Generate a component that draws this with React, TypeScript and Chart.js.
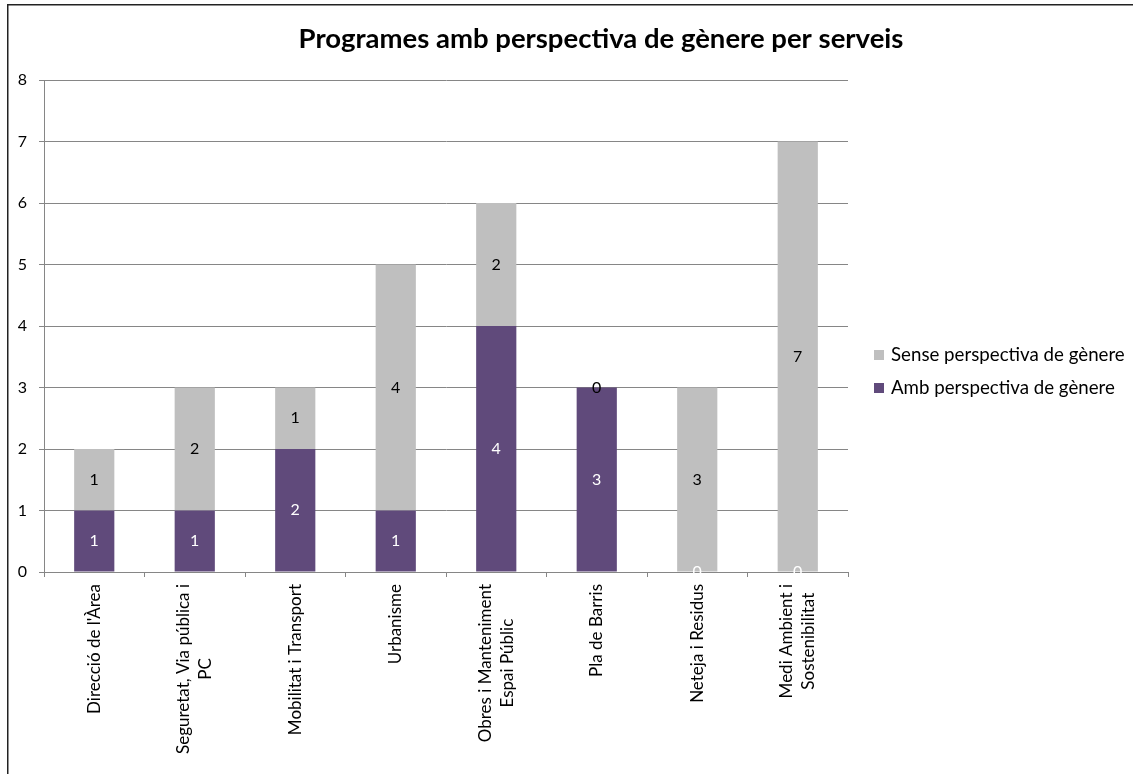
import React, { useEffect, useRef } from "react";
import { Chart, registerables } from "chart.js";

Chart.register(...registerables);

const categories: string[][] = [
  ["Direcció de l'Àrea"],
  ["Seguretat, Via pública i", "PC"],
  ["Mobilitat i Transport"],
  ["Urbanisme"],
  ["Obres i Manteniment", "Espai Públic"],
  ["Pla de Barris"],
  ["Neteja i Residus"],
  ["Medi Ambient i", "Sostenibilitat"],
];
const ambValues = [1, 1, 2, 1, 4, 3, 0, 0];
const senseValues = [1, 2, 1, 4, 2, 0, 3, 7];
const yTicks = [0, 1, 2, 3, 4, 5, 6, 7, 8];
const titleText = "Programes amb perspectiva de gènere per serveis";
const ambLabel = "Amb perspectiva de gènere";
const senseLabel = "Sense perspectiva de gènere";

const PURPLE = "#604A7B";
const GREY = "#BFBFBF";
const GRID = "#868686";
const FONT = "Lato, 'Open Sans', sans-serif";

const W = 1133;
const H = 774;

const decorPlugin = {
  id: "decor",
  beforeDraw(chart: any) {
    const ctx = chart.ctx;
    ctx.save();
    ctx.fillStyle = "#fff";
    ctx.fillRect(0, 0, chart.width, chart.height);
    ctx.restore();
  },
  afterDraw(chart: any) {
    const ctx = chart.ctx;
    ctx.save();
    // outer chart border
    ctx.strokeStyle = "#222";
    ctx.lineWidth = 1.5;
    ctx.strokeRect(7.75, 4.75, 3000, 3000);

    // title
    ctx.fillStyle = "#000";
    ctx.font = `bold 27.5px ${FONT}`;
    ctx.textAlign = "center";
    ctx.textBaseline = "middle";
    ctx.fillText(titleText, 601, 39);

    // legend
    ctx.font = `18.7px ${FONT}`;
    ctx.textAlign = "left";
    const items = [
      { text: senseLabel, color: GREY, y: 355 },
      { text: ambLabel, color: PURPLE, y: 388 },
    ];
    for (const it of items) {
      ctx.fillStyle = it.color;
      ctx.fillRect(874, it.y - 5, 10, 10);
      ctx.fillStyle = "#000";
      ctx.fillText(it.text, 891, it.y);
    }

    // x category labels, rotated, lines centred in block
    const xs = chart.scales.x;
    const lineH = 22;
    ctx.font = `17px ${FONT}`;
    categories.forEach((lines, i) => {
      const px = xs.getPixelForValue(i);
      const wMax = Math.max(...lines.map((l) => ctx.measureText(l).width));
      const top = chart.chartArea.bottom + 12;
      const cy = top + wMax / 2;
      lines.forEach((l, j) => {
        const lx = px + (j - (lines.length - 1) / 2) * lineH;
        ctx.save();
        ctx.translate(lx, cy);
        ctx.rotate(-Math.PI / 2);
        ctx.textAlign = "center";
        ctx.textBaseline = "middle";
        ctx.fillStyle = "#000";
        ctx.fillText(l, 0, 0);
        ctx.restore();
      });
    });
    ctx.restore();
  },
  afterDatasetsDraw(chart: any) {
    const ctx = chart.ctx;
    ctx.save();
    ctx.font = `16px ${FONT}`;
    ctx.textAlign = "center";
    ctx.textBaseline = "middle";
    chart.data.datasets.forEach((ds: any, di: number) => {
      const meta = chart.getDatasetMeta(di);
      ctx.fillStyle = di === 0 ? "#fff" : "#000";
      meta.data.forEach((bar: any, i: number) => {
        const v = ds.data[i];
        const cy = (bar.y + bar.base) / 2;
        ctx.fillText(String(v), bar.x, cy);
      });
    });
    ctx.restore();
  },
};

export default function App() {
  const ref = useRef<HTMLCanvasElement>(null);
  useEffect(() => {
    if (!ref.current) return;
    const chart = new Chart(ref.current, {
      type: "bar",
      data: {
        labels: categories.map((c) => c.join(" ")),
        datasets: [
          {
            label: ambLabel,
            data: ambValues,
            backgroundColor: PURPLE,
            barPercentage: 0.4,
            categoryPercentage: 1,
          },
          {
            label: senseLabel,
            data: senseValues,
            backgroundColor: GREY,
            barPercentage: 0.4,
            categoryPercentage: 1,
          },
        ],
      },
      options: {
        animation: false,
        responsive: false,
        maintainAspectRatio: false,
        devicePixelRatio: 1,
        layout: { padding: { top: 80, right: W - 848, bottom: 0, left: 0 } },
        plugins: {
          legend: { display: false },
          title: { display: false },
          tooltip: { enabled: false },
        },
        scales: {
          x: {
            stacked: true,
            grid: {
              offset: true,
              drawOnChartArea: false,
              drawTicks: true,
              tickLength: 5,
              color: GRID,
            },
            border: { display: true, color: GRID, width: 1 },
            ticks: { display: false, autoSkip: false },
            afterFit: (s: any) => {
              s.height = H - 572;
            },
          },
          y: {
            stacked: true,
            min: yTicks[0],
            max: yTicks[yTicks.length - 1],
            afterBuildTicks: (s: any) => {
              s.ticks = yTicks.map((v) => ({ value: v }));
            },
            grid: { color: GRID, tickLength: 5, lineWidth: 1 },
            border: { display: true, color: GRID, width: 1 },
            ticks: {
              stepSize: 1,
              padding: 12,
              color: "#000",
              font: { family: FONT, size: 16 },
            },
            afterFit: (s: any) => {
              s.width = 44;
            },
          },
        },
      },
      plugins: [decorPlugin],
    });
    return () => chart.destroy();
  }, []);
  return (
    <canvas
      ref={ref}
      width={W}
      height={H}
      style={{ position: "absolute", left: 0, top: 0, width: W, height: H }}
    />
  );
}
